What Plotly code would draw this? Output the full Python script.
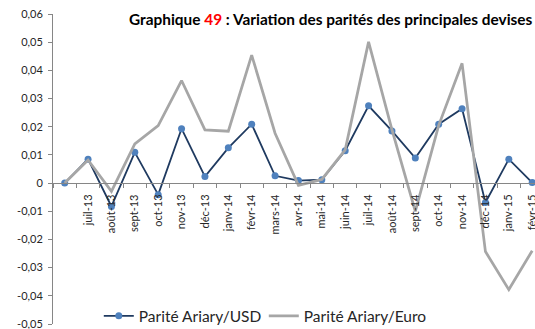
import plotly.graph_objects as go

# Months (first period has no label on the axis)
mois = ["", "juil-13", "août-13", "sept-13", "oct-13", "nov-13", "déc-13",
        "janv-14", "févr-14", "mars-14", "avr-14", "mai-14", "juin-14",
        "juil-14", "août-14", "sept-14", "oct-14", "nov-14", "déc-14",
        "janv-15", "févr-15"]

# Monthly variation of the Ariary against each currency
parite_usd = [0.0, 0.0085, -0.0083, 0.0109, -0.0041, 0.0193, 0.0023,
              0.0125, 0.0209, 0.0026, 0.0009, 0.0012, 0.0115,
              0.0274, 0.0185, 0.0089, 0.0209, 0.0264, -0.0069,
              0.0085, 0.0002]
parite_euro = [0.0, 0.0082, -0.0029, 0.0139, 0.0204, 0.0364, 0.0189,
               0.0184, 0.0454, 0.0177, -0.0008, 0.0013, 0.0118,
               0.0501, 0.0190, -0.0100, 0.0205, 0.0425, -0.0243,
               -0.0378, -0.0240]

# Y axis ticks with French decimal comma
y_ticks = [-0.05, -0.04, -0.03, -0.02, -0.01, 0.0, 0.01, 0.02, 0.03, 0.04, 0.05, 0.06]
y_labels = ["-0,05", "-0,04", "-0,03", "-0,02", "-0,01", "0",
            "0,01", "0,02", "0,03", "0,04", "0,05", "0,06"]

x_idx = list(range(len(mois)))
FONT = "Lato, 'Open Sans', sans-serif"
AXIS_GREY = "#868686"

fig = go.Figure()
fig.add_trace(go.Scatter(
    x=x_idx, y=parite_usd, name="Parité Ariary/USD",
    mode="lines+markers",
    line=dict(color="#1F3A60", width=1.8),
    marker=dict(color="#4F81BD", size=7, symbol="circle"),
))
fig.add_trace(go.Scatter(
    x=x_idx, y=parite_euro, name="Parité Ariary/Euro",
    mode="lines",
    line=dict(color="#A6A6A6", width=2.75),
))

fig.update_layout(
    width=535, height=329,
    margin=dict(l=53, r=0, t=14, b=5, autoexpand=False),
    paper_bgcolor="white", plot_bgcolor="white",
    font=dict(family=FONT, color="#262626"),
    title=dict(
        text="Graphique <span style='color:#FF0000'>49</span> : "
             "Variation des parités des principales devises",
        font=dict(family=FONT, size=15.4, color="#000000", weight="bold"),
        x=129 / 535, xanchor="left", xref="container",
        y=1 - 19.5 / 329, yanchor="middle", yref="container",
    ),
    showlegend=True,
    legend=dict(
        orientation="h", x=0.095, xanchor="left", y=0.025, yanchor="middle",
        font=dict(family=FONT, size=15.5, color="#262626"),
        bgcolor="rgba(0,0,0,0)", itemwidth=30,
        entrywidth=120, entrywidthmode="pixels",
    ),
    xaxis=dict(
        range=[-0.5, 20.12], showgrid=False, zeroline=False,
        tickmode="array", tickvals=x_idx, ticktext=mois,
        tickangle=-90, ticks="", ticklabelstandoff=6,
        ticklabeloverflow="allow",
        tickfont=dict(family=FONT, size=11, color="#262626"),
        showline=True, linecolor=AXIS_GREY, linewidth=1,
        anchor="free", position=0.05 / 0.11,
        minor=dict(tickmode="linear", tick0=0.5, dtick=1,
                   ticks="outside", ticklen=4, tickcolor=AXIS_GREY),
    ),
    yaxis=dict(
        range=[-0.05, 0.06], showgrid=False, zeroline=False,
        tickmode="array", tickvals=y_ticks, ticktext=y_labels,
        ticks="outside", ticklen=4, tickcolor=AXIS_GREY,
        ticklabelstandoff=3, ticklabeloverflow="allow",
        tickfont=dict(family=FONT, size=11, color="#262626"),
        showline=True, linecolor=AXIS_GREY, linewidth=1,
    ),
)

fig.write_html("out.html")
